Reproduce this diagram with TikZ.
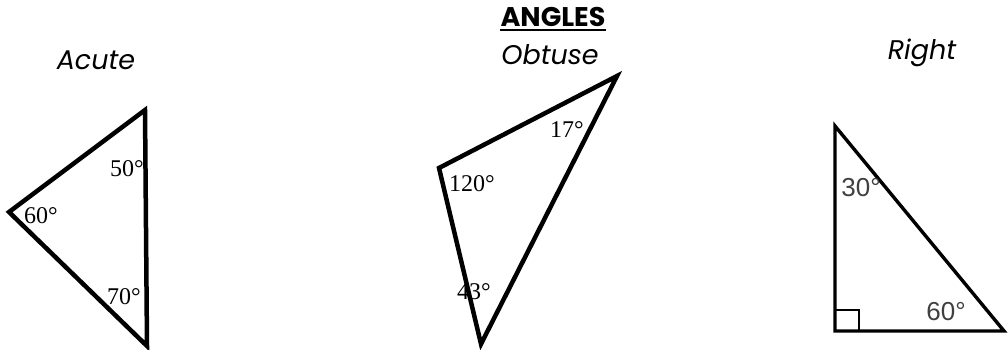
\documentclass[tikz,border=0pt]{standalone}
\usepackage{fontspec}
\setmainfont{Liberation Serif}
\newfontfamily\gothic{Poppins}
\newfontfamily\arialf{Liberation Sans}
\begin{document}
\begin{tikzpicture}[x=1pt,y=-1pt,
  tri/.style={line width=4.5pt,line join=miter,black},
  heading/.style={font=\gothic\itshape\fontsize{27}{29}\selectfont,inner sep=0pt},
  ang/.style={font=\fontsize{24}{26}\selectfont,inner sep=0pt},
  angs/.style={font=\arialf\fontsize{26}{28}\selectfont,inner sep=0pt,text=black!75}]
\useasboundingbox (0,0) rectangle (1008,350);
% title
\node[font=\gothic\bfseries\fontsize{27}{29}\selectfont,inner sep=0pt] (title) at (553,17) {ANGLES};
\draw[line width=1.8pt] ([yshift=-3pt]title.south west) -- ([yshift=-3pt]title.south east);
% headings
\node[heading] (hacute) at (96,60) {Acute};
\node[heading] (hobtuse) at (550,55) {Obtuse};
\node[heading] (hright) at (922,53) {Right};
% acute triangle
\coordinate (a1) at (145,110);
\coordinate (a2) at (9,212);
\coordinate (a3) at (147,346);
\draw[tri] (a1) -- (a2) -- (a3) -- cycle;
\node[ang] (a50) at (127,169) {50°};
\node[ang] (a60) at (41,216) {60°};
\node[ang] (a70) at (124,297) {70°};
% obtuse triangle
\coordinate (o1) at (617,76);
\coordinate (o2) at (439,168);
\coordinate (o3) at (481,344);
\draw[tri] (o1) -- (o2) -- (o3) -- cycle;
\node[ang] (o17) at (567,130) {17°};
\node[ang] (o120) at (472,184) {120°};
\node[ang] (o43) at (474,292) {43°};
% right triangle
\coordinate (r1) at (835,126);
\coordinate (r2) at (835,331);
\coordinate (r3) at (1004,331);
\draw[tri,line width=3.4pt] (r1) -- (r2) -- (r3) -- cycle;
\coordinate (q1) at (859,331);
\coordinate (q2) at (859,310);
\coordinate (q3) at (835,310);
\draw[line width=1.4pt] (q1) -- (q2) -- (q3);
\node[angs] (r30) at (861,188) {30°};
\node[angs] (r60) at (946,312) {60°};
\end{tikzpicture}
\end{document}
